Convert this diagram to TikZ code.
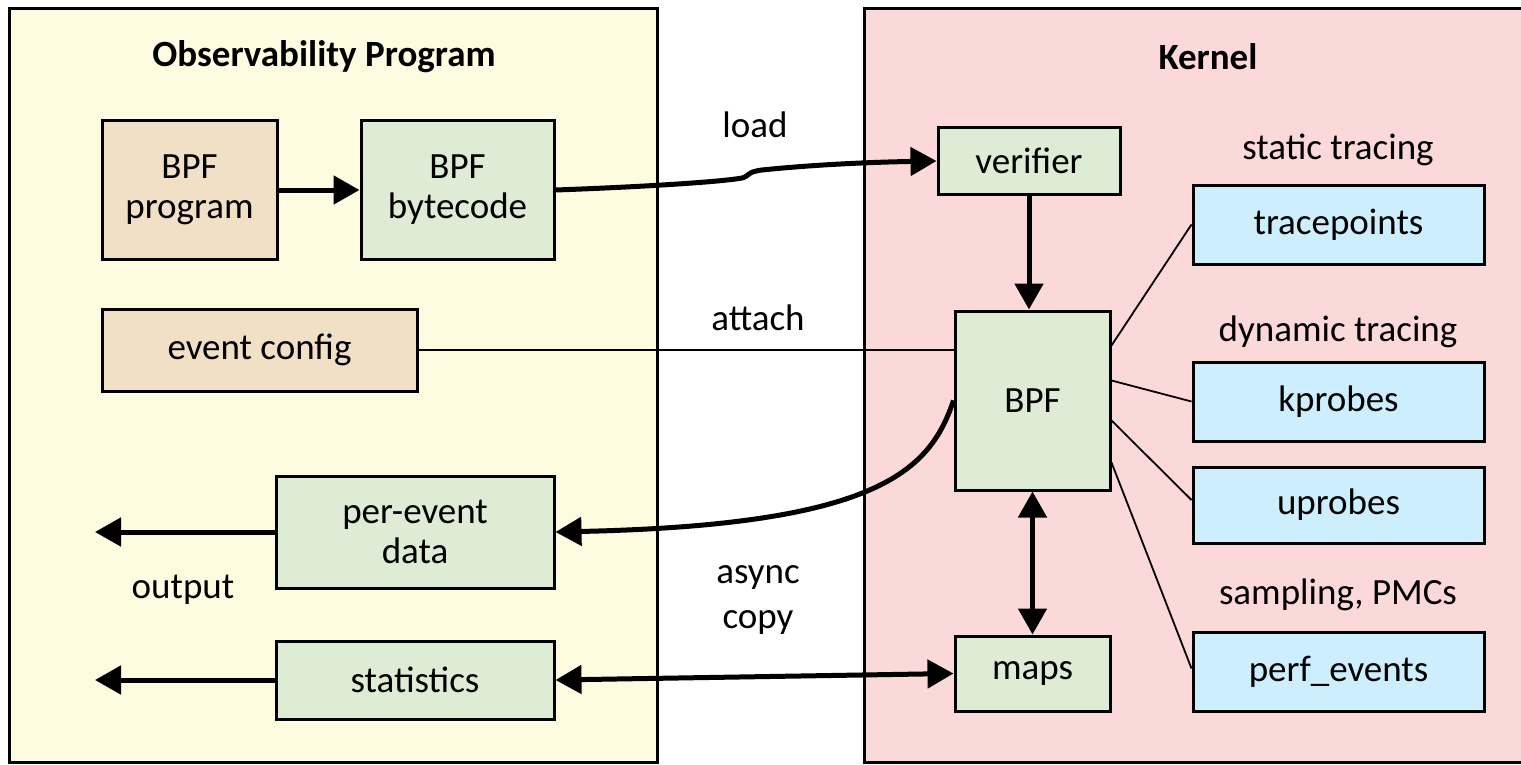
\documentclass[tikz,border=0pt]{standalone}
\usepackage{fontspec}
\setmainfont{Carlito}
\usetikzlibrary{arrows.meta}
\definecolor{panelY}{RGB}{253,251,224}
\definecolor{panelR}{RGB}{251,217,217}
\definecolor{boxTan}{RGB}{242,224,198}
\definecolor{boxGreen}{RGB}{222,235,213}
\definecolor{boxBlue}{RGB}{204,238,253}
\tikzset{
  panel/.style={draw=black,line width=3pt},
  box/.style={draw=black,line width=3pt,inner sep=0pt,align=center,font=\fontsize{37}{40}\selectfont},
  lbl/.style={inner sep=0pt,align=center,font=\fontsize{37}{45}\selectfont},
  ttl/.style={inner sep=0pt,font=\fontsize{37}{42}\selectfont\bfseries},
  thick arrow/.style={line width=5pt,-{Triangle[length=26pt,width=28pt]}},
  thick both/.style={line width=5pt,{Triangle[length=26pt,width=28pt]}-{Triangle[length=26pt,width=28pt]}},
  thin line/.style={line width=1.8pt}
}
\begin{document}
\begin{tikzpicture}[x=1pt,y=-1pt]
\useasboundingbox (0,0) rectangle (1521,765);
\fill[white] (0,0) rectangle (1521,765);
% panels
\draw[panel,fill=panelY] (9,9) rectangle (657,762);
\draw[panel,fill=panelR] (864,9) rectangle (1530,762);
\node[ttl] (t1) at (324,57) {Observability Program};
\node[ttl] (t2) at (1208,57) {Kernel};
% left boxes
\node[box,fill=boxTan,minimum width=175pt,minimum height=138pt] (prog) at (189.5,190) {BPF\\program};
\node[box,fill=boxGreen,minimum width=193pt,minimum height=138pt] (bc) at (457.5,190) {BPF\\bytecode};
\node[box,fill=boxTan,minimum width=315pt,minimum height=82pt] (ec) at (259.5,350) {event config};
\node[box,fill=boxGreen,minimum width=278pt,minimum height=112pt] (ped) at (415,532) {per-event\\data};
\node[box,fill=boxGreen,minimum width=278pt,minimum height=78pt] (stat) at (415,680) {statistics};
% kernel boxes
\node[box,fill=boxGreen,minimum width=182pt,minimum height=66pt] (ver) at (1029,161) {verifier};
\node[box,fill=boxGreen,minimum width=155pt,minimum height=179pt] (bpf) at (1032.5,400.5) {BPF};
\node[box,fill=boxGreen,minimum width=155pt,minimum height=75pt] (maps) at (1032.5,673.5) {maps};
\node[box,fill=boxBlue,minimum width=291pt,minimum height=79pt] (tp) at (1338.5,224.5) {tracepoints};
\node[box,fill=boxBlue,minimum width=291pt,minimum height=79pt] (kp) at (1338.5,401.5) {kprobes};
\node[box,fill=boxBlue,minimum width=291pt,minimum height=76pt] (up) at (1338.5,505) {uprobes};
\node[box,fill=boxBlue,minimum width=291pt,minimum height=79pt] (pe) at (1338.5,671.5) {perf\_events};
% labels
\node[lbl] (lload) at (755,125) {load};
\node[lbl] (lattach) at (758,318) {attach};
\node[lbl] (lasync) at (758,600) {async\\copy};
\node[lbl] (lout) at (183,590) {output};
\node[lbl] (lst) at (1338,150) {static tracing};
\node[lbl] (ldyn) at (1338,332) {dynamic tracing};
\node[lbl] (lsamp) at (1338,595) {sampling, PMCs};
% connectors
\draw[thick arrow] (prog) -- (bc);
\draw[thick arrow] (bc.east) .. controls (640,187) and (720,182) .. (742,178)
  .. controls (750,176) and (746,172) .. (762,170)
  .. controls (820,164) and (880,162) .. (ver.west);
\draw[thick arrow] (ver.south) -- (ver.south |- bpf.north);
\draw[thin line] (ec.east) -- (ec.east -| bpf.west);
\draw[thick arrow] (bpf.west) .. controls (930,470) and (880,525) .. (ped.east);
\draw[thick both] (bpf.south) -- (maps.north);
\draw[thick both] (stat.east) -- (maps.west);
\coordinate (o1) at (95,532);
\coordinate (o2) at (95,680);
\draw[thick arrow] (ped.west) -- (o1);
\draw[thick arrow] (stat.west) -- (o2);
\draw[thin line] ([yshift=55pt]bpf.east) -- (tp.west);
\draw[thin line] ([yshift=20pt]bpf.east) -- (kp.west);
\draw[thin line] ([yshift=-20pt]bpf.east) -- ([yshift=5pt]up.west);
\draw[thin line] ([yshift=-62pt]bpf.east) -- ([yshift=3pt]pe.west);
\end{tikzpicture}
\end{document}
